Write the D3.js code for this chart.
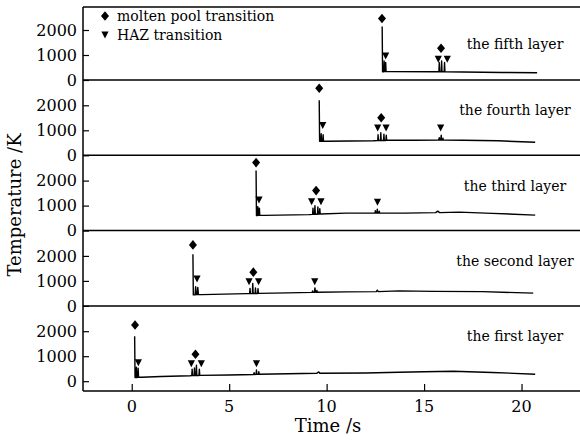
<!DOCTYPE html>
<html><head><meta charset="utf-8">
<script src="https://cdn.jsdelivr.net/npm/d3@7/dist/d3.min.js"></script>
<style>body{margin:0;background:#fff}text{font-family:"DejaVu Serif",serif;fill:#000}</style>
</head><body><svg id="c" width="580" height="440"></svg>
<script>
// ---------- data ----------
const layerNames = ["the first layer","the second layer","the third layer","the fourth layer","the fifth layer"];
const xTicks = [0,5,10,15,20];
const yTicks = [0,1000,2000];

const time1 = [0.15,0.17,0.22,0.24,0.26,0.31,0.33,0.35,0.5,1.5,3.0,3.08,3.10,3.12,3.20,3.22,3.24,3.30,3.32,3.34,3.45,3.47,3.49,5.0,6.25,6.28,6.30,6.38,6.40,6.42,6.50,6.52,6.54,9.5,9.6,9.65,12.0,13.7,15.0,16.5,18.5,20.7];
const temp1 = [1800,150,150,560,150,155,520,160,160,190,220,225,480,225,225,530,230,230,640,230,230,480,235,250,270,340,270,275,450,275,275,380,280,320,370,320,330,360,380,400,350,280];
const time2 = [3.14,3.16,3.25,3.28,3.31,3.36,3.39,3.42,3.6,5.9,6.05,6.07,6.09,6.19,6.21,6.23,6.33,6.35,6.37,6.46,6.48,6.50,8.0,9.25,9.28,9.30,9.37,9.40,9.43,9.48,9.50,9.52,11.0,12.55,12.6,12.65,13.7,15.5,18.0,20.6];
const temp2 = [2070,440,440,770,450,450,740,450,450,490,490,700,490,490,900,495,495,720,495,495,690,500,520,540,600,540,540,720,545,545,620,545,560,570,630,570,600,580,570,510];
const time3 = [6.38,6.40,6.45,6.47,6.49,6.53,6.55,6.57,6.8,9.1,9.28,9.30,9.32,9.38,9.40,9.42,9.53,9.55,9.57,9.63,9.65,9.67,11.0,12.48,12.50,12.52,12.58,12.60,12.62,12.68,12.70,12.72,14.0,15.6,15.7,15.8,16.8,18.5,20.7];
const temp3 = [2400,600,600,960,610,610,900,610,610,640,650,900,650,650,1000,655,655,950,660,660,880,665,700,700,800,700,700,860,700,700,780,705,700,720,780,720,740,690,620];
const time4 = [9.62,9.64,9.70,9.72,9.74,9.80,9.82,9.84,10.0,12.4,12.62,12.64,12.66,12.76,12.78,12.80,12.92,12.94,12.96,13.04,13.06,13.08,14.5,15.75,15.78,15.80,15.85,15.88,15.90,15.95,15.97,15.99,17.0,18.8,20.7];
const temp4 = [2200,560,560,860,565,565,820,565,565,580,590,820,590,590,900,595,595,840,595,595,800,600,600,610,700,610,610,800,610,610,680,610,600,580,520];
const time5 = [12.85,12.87,12.93,12.95,12.97,13.01,13.03,13.05,13.3,15.5,15.76,15.78,15.80,15.88,15.90,15.92,16.03,16.05,16.07,17.0,19.0,20.8];
const temp5 = [2140,330,330,760,335,335,700,335,335,330,330,700,330,330,760,330,330,700,330,320,300,290];

// molten pool transition markers (diamonds) per layer
const meltTimes = [[0.17,3.27],[3.14,6.24],[6.38,9.46],[9.62,12.8],[12.84,15.87]];
const meltTemps = [[2250,1080],[2440,1350],[2720,1600],[2680,1500],[2460,1270]];
// HAZ transition markers (triangles) per layer
const hazTimes = [[0.34,3.06,3.57,6.4],[3.35,6.02,6.51,9.39],[6.53,9.23,9.71,12.61],[9.8,12.62,13.05,15.85],[13.03,15.73,16.19]];
const hazTemps = [[740,700,700,700],[1080,970,970,970],[1230,1160,1160,1140],[1200,1100,1100,1100],[960,830,830]];

const times = [time1,time2,time3,time4,time5];
const temps = [temp1,temp2,temp3,temp4,temp5];

// ---------- layout ----------
const svg = d3.select("#c");
const PL = 83, PR = 580, PT = 7, PB = 391;
const x = d3.scaleLinear().domain([-2.5,23]).range([PL,PR]);
const zeroY = i => 381.2 - 75.3*i;
const yS = layerNames.map((_,i) => d3.scaleLinear().domain([0,2000]).range([zeroY(i), zeroY(i)-50]));

const diamond = "M0,-4.8L4,0L0,4.8L-4,0Z";
const tri = "M-3.6,-3.4L3.6,-3.4L0,3.6Z";

layerNames.forEach((name,i) => {
  const y = yS[i];
  const pts = times[i].map((t,k)=>[t,temps[i][k]]);
  svg.append("path").datum(pts)
    .attr("d", d3.line().x(d=>x(d[0])).y(d=>y(d[1])))
    .attr("fill","none").attr("stroke","#000").attr("stroke-width",1.4).attr("stroke-linejoin","round");
  svg.selectAll(null).data(meltTimes[i].map((t,k)=>[t,meltTemps[i][k]])).enter().append("path")
    .attr("d",diamond).attr("transform",d=>`translate(${x(d[0])},${y(d[1])})`).attr("fill","#000");
  svg.selectAll(null).data(hazTimes[i].map((t,k)=>[t,hazTemps[i][k]])).enter().append("path")
    .attr("d",tri).attr("transform",d=>`translate(${x(d[0])},${y(d[1])})`).attr("fill","#000");
  const ax = svg.append("g").attr("transform",`translate(${PL},0)`)
    .call(d3.axisRight(y).tickValues(yTicks).tickSize(6).tickFormat(""));
  ax.select(".domain").remove();
  ax.selectAll("line").attr("stroke","#000").attr("stroke-width",1.2);
  yTicks.forEach(v=>{
    svg.append("text").attr("x",77).attr("y",y(v)).attr("dy","0.35em")
      .attr("text-anchor","end").attr("font-size",16).text(v);
  });
  const labelV = i===4 ? 1450 : 1800;
  svg.append("text").attr("x",515).attr("y",y(labelV)).attr("dy","0.35em")
    .attr("text-anchor","middle").attr("font-size",14).text(name);
  if (i < 4) svg.append("line").attr("x1",PL).attr("x2",PR).attr("y1",zeroY(i+1)).attr("y2",zeroY(i+1))
    .attr("stroke","#000").attr("stroke-width",1.5);
});

svg.append("line").attr("x1",PL).attr("x2",PR).attr("y1",PT).attr("y2",PT).attr("stroke","#000").attr("stroke-width",1.5);
svg.append("line").attr("x1",PL).attr("x2",PL).attr("y1",PT).attr("y2",PB).attr("stroke","#000").attr("stroke-width",1.5);

const xa = svg.append("g").attr("transform",`translate(0,${PB})`)
  .call(d3.axisTop(x).tickValues(xTicks).tickSize(7).tickFormat(""));
xa.select(".domain").remove();
xa.selectAll("line").attr("stroke","#000").attr("stroke-width",1.2);
svg.append("line").attr("x1",PL).attr("x2",PR).attr("y1",PB).attr("y2",PB).attr("stroke","#000").attr("stroke-width",1.5);
xTicks.forEach(v=>{
  svg.append("text").attr("x",x(v)).attr("y",412).attr("text-anchor","middle").attr("font-size",16).text(v);
});
svg.append("text").attr("x",328).attr("y",432).attr("text-anchor","middle").attr("font-size",18).text("Time /s");
svg.append("text").attr("transform","translate(21,205) rotate(-90)").attr("text-anchor","middle").attr("font-size",18).text("Temperature /K");

svg.append("path").attr("d",diamond).attr("transform","translate(105,16)").attr("fill","#000");
svg.append("text").attr("x",117).attr("y",16).attr("dy","0.35em").attr("font-size",14).text("molten pool transition");
svg.append("path").attr("d",tri).attr("transform","translate(105,35)").attr("fill","#000");
svg.append("text").attr("x",117).attr("y",35).attr("dy","0.35em").attr("font-size",14).text("HAZ transition");
</script></body></html>
